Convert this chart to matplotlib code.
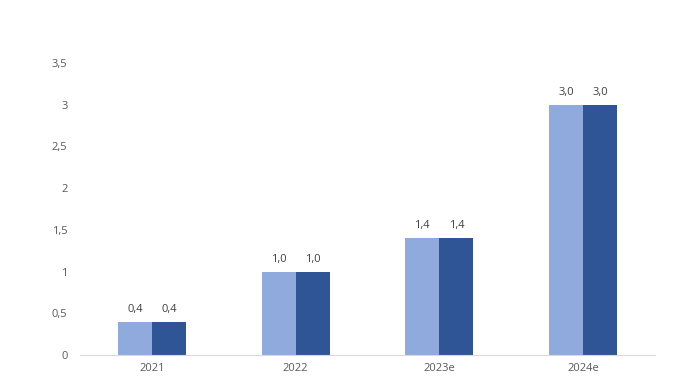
import numpy as np
import matplotlib.pyplot as plt

categories = ['2021', '2022', '2023e', '2024e']
series_a = [0.4, 1.0, 1.4, 3.0]
series_b = [0.4, 1.0, 1.4, 3.0]
yticks = [0, 0.5, 1, 1.5, 2, 2.5, 3, 3.5]

light = '#8FAADC'
dark = '#2F5597'
txt = '#595959'

plt.rcParams['font.family'] = ['Open Sans', 'DejaVu Sans']

fig = plt.figure(figsize=(6.74, 3.83), dpi=100)
ax = fig.add_axes([0.1187, 0.0731, 0.853, 0.7624])

x = np.arange(len(categories))
w = 0.237
ax.bar(x - w / 2, series_a, w, color=light)
ax.bar(x + w / 2, series_b, w, color=dark)

for xi, v in zip(x - w / 2, series_a):
    ax.annotate(f'{v:.1f}'.replace('.', ','), (xi, v), xytext=(0, 5),
                textcoords='offset points', ha='center', va='bottom',
                fontsize=8, color='#404040')
for xi, v in zip(x + w / 2, series_b):
    ax.annotate(f'{v:.1f}'.replace('.', ','), (xi, v), xytext=(0, 5),
                textcoords='offset points', ha='center', va='bottom',
                fontsize=8, color='#404040')

ax.set_xlim(-0.5, len(categories) - 0.5)
ax.set_ylim(0, 3.5)
ax.set_xticks(x)
ax.set_xticklabels(categories)
ax.set_yticks(yticks)
ax.set_yticklabels([f'{t:g}'.replace('.', ',') for t in yticks])
ax.tick_params(axis='both', length=0, labelsize=8, colors=txt)
ax.tick_params(axis='y', pad=9)
ax.tick_params(axis='x', pad=6)
for s in ['top', 'right', 'left']:
    ax.spines[s].set_visible(False)
ax.spines['bottom'].set_color('#D9D9D9')

plt.savefig('out.png')
